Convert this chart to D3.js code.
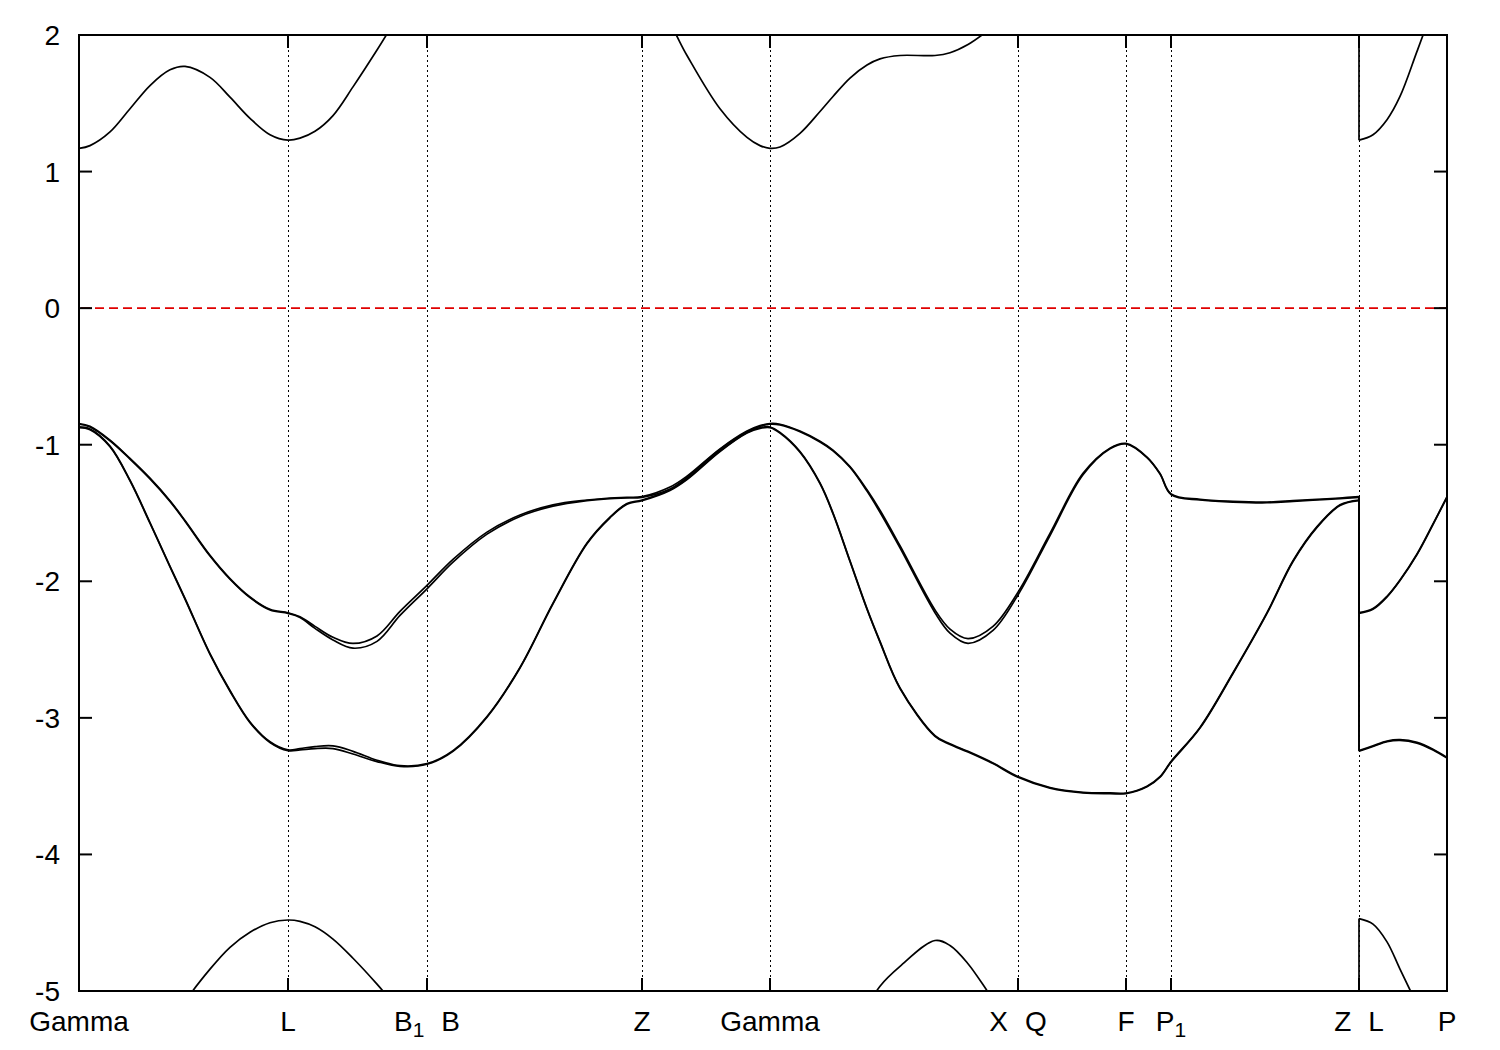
<!DOCTYPE html>
<html><head><meta charset="utf-8">
<script src="https://cdn.jsdelivr.net/npm/d3@7"></script>
<style>body{margin:0;background:#fff} svg{display:block}</style>
</head><body>
<svg id="c" width="1500" height="1050"></svg>
<script>
// k-path distance (arb. units); duplicated value = discontinuity Z|L
const kPath=[0,0.044,0.124,0.204,0.284,0.364,0.424,0.524,0.604,0.684,0.764,0.836,
 0.884,0.944,1.016,1.096,1.192,1.284,1.392,
 1.496,1.632,1.764,1.896,2.032,2.124,2.192,2.252,
 2.364,2.432,2.564,2.672,2.724,2.764,
 2.804,2.884,2.964,3.016,3.084,3.152,3.204,3.284,3.424,3.484,3.556,3.656,3.756,
 3.884,4.016,4.124,4.188,
 4.272,4.324,4.368,
 4.484,4.616,4.752,4.856,4.952,5.044,5.12,
 5.12,5.176,5.232,5.284,5.352,5.416,5.472];

// band energies (eV)
const bandCB=[1.17,1.19,1.29,1.46,1.63,1.745,1.77,1.69,1.545,1.39,1.27,1.23,
 1.245,1.295,1.41,1.62,1.89,2.16,2.45,
 2.7,2.9,3.0,3.0,2.9,2.7,2.5,2.35,
 2.08,1.85,1.46,1.25,1.19,1.17,
 1.18,1.28,1.44,1.55,1.685,1.78,1.825,1.85,1.85,1.87,1.93,2.06,2.2,
 2.4,2.6,2.7,2.7,
 2.65,2.6,2.6,
 2.6,2.6,2.6,2.6,2.6,2.6,2.6,
 1.23,1.27,1.38,1.55,1.88,2.2,2.5];

const bandVB1a=[-0.845,-0.865,-0.966,-1.10,-1.245,-1.41,-1.555,-1.81,-1.98,-2.115,-2.205,-2.23,
 -2.26,-2.33,-2.41,-2.455,-2.40,-2.22,-2.03,
 -1.84,-1.64,-1.515,-1.44,-1.405,-1.39,-1.385,-1.38,
 -1.31,-1.23,-1.03,-0.90,-0.86,-0.845,
 -0.85,-0.90,-0.975,-1.04,-1.16,-1.33,-1.48,-1.74,-2.21,-2.35,-2.42,-2.33,-2.08,
 -1.65,-1.21,-1.025,-0.99,
 -1.09,-1.21,-1.36,
 -1.40,-1.415,-1.42,-1.41,-1.40,-1.39,-1.38,
 -2.23,-2.20,-2.11,-1.99,-1.80,-1.58,-1.38];

const bandVB1b=[-0.85,-0.87,-0.971,-1.105,-1.25,-1.415,-1.56,-1.815,-1.985,-2.12,-2.21,-2.235,
 -2.265,-2.345,-2.43,-2.49,-2.44,-2.25,-2.055,
 -1.86,-1.655,-1.525,-1.45,-1.41,-1.395,-1.39,-1.385,
 -1.325,-1.24,-1.035,-0.905,-0.865,-0.85,
 -0.855,-0.905,-0.98,-1.045,-1.165,-1.34,-1.495,-1.755,-2.23,-2.38,-2.455,-2.36,-2.10,
 -1.665,-1.22,-1.03,-0.995,
 -1.095,-1.215,-1.365,
 -1.405,-1.42,-1.425,-1.415,-1.405,-1.395,-1.385,
 -2.235,-2.205,-2.115,-1.995,-1.805,-1.585,-1.385];

const bandVB2a=[-0.87,-0.885,-1.01,-1.26,-1.57,-1.89,-2.125,-2.53,-2.80,-3.03,-3.175,-3.235,
 -3.225,-3.21,-3.205,-3.245,-3.31,-3.35,-3.335,
 -3.24,-2.99,-2.63,-2.16,-1.72,-1.53,-1.43,-1.405,
 -1.33,-1.25,-1.045,-0.91,-0.875,-0.87,
 -0.91,-1.05,-1.28,-1.50,-1.85,-2.20,-2.44,-2.78,-3.13,-3.19,-3.245,-3.33,-3.43,
 -3.51,-3.545,-3.55,-3.55,
 -3.50,-3.43,-3.32,
 -3.07,-2.67,-2.23,-1.85,-1.60,-1.44,-1.405,
 -3.24,-3.205,-3.17,-3.16,-3.18,-3.23,-3.29];

const bandVB2b=[-0.875,-0.89,-1.015,-1.265,-1.575,-1.895,-2.13,-2.535,-2.805,-3.035,-3.18,-3.24,
 -3.235,-3.225,-3.225,-3.265,-3.32,-3.355,-3.34,
 -3.245,-2.995,-2.635,-2.165,-1.725,-1.535,-1.435,-1.41,
 -1.335,-1.255,-1.05,-0.915,-0.88,-0.875,
 -0.915,-1.055,-1.285,-1.505,-1.855,-2.205,-2.445,-2.785,-3.135,-3.195,-3.25,-3.335,-3.435,
 -3.515,-3.55,-3.555,-3.555,
 -3.505,-3.435,-3.325,
 -3.075,-2.675,-2.235,-1.855,-1.605,-1.445,-1.41,
 -3.245,-3.21,-3.175,-3.165,-3.185,-3.235,-3.295];

const bandVB3=[-6.2,-6.15,-6.0,-5.75,-5.5,-5.28,-5.08,-4.84,-4.68,-4.57,-4.50,-4.48,
 -4.49,-4.53,-4.62,-4.76,-4.95,-5.15,-5.4,
 -5.6,-5.8,-5.9,-6.0,-6.0,-6.0,-6.0,-6.0,
 -6.0,-6.05,-6.1,-6.15,-6.2,-6.2,
 -6.2,-6.1,-5.85,-5.65,-5.38,-5.12,-4.965,-4.82,-4.63,-4.667,-4.80,-5.06,-5.3,
 -5.6,-5.8,-5.9,-5.9,
 -5.9,-5.9,-5.9,
 -5.9,-5.9,-5.9,-5.9,-5.9,-5.9,-5.9,
 -4.47,-4.51,-4.64,-4.84,-5.1,-5.35,-5.55];

const symK=[0,0.836,1.392,2.252,2.764,3.756,4.188,4.368,5.12,5.472];
const symLabels=["Gamma","L","B_1 B","Z","Gamma","X Q","F","P_1","Z L","P"];
const yTicks=[-5,-4,-3,-2,-1,0,1,2];
const fermiLevel=0;

const bands=[bandCB,bandVB1a,bandVB1b,bandVB2a,bandVB2b,bandVB3];

const L=79,R=1447,T=35,B=991;
const x=d3.scaleLinear().domain([0,5.472]).range([L,R]);
const y=d3.scaleLinear().domain([-5,2]).range([B,T]);
const svg=d3.select("#c");
const font="'Liberation Sans', Arial, Helvetica, sans-serif";

svg.append("defs").append("clipPath").attr("id","clip")
 .append("rect").attr("x",L).attr("y",T).attr("width",R-L).attr("height",B-T);

// vertical dotted lines at interior symmetry points
svg.append("g").selectAll("line").data(symK.slice(1,-1)).join("line")
 .attr("x1",d=>Math.round(x(d))+0.5).attr("x2",d=>Math.round(x(d))+0.5)
 .attr("y1",T).attr("y2",B)
 .attr("stroke","#000").attr("stroke-width",1).attr("stroke-dasharray","2,3");

// bands
const splitIdx=kPath.findIndex((k,i)=>i<kPath.length-1&&k===kPath[i+1]);
const line=d3.line().x(d=>x(d[0])).y(d=>y(d[1])).curve(d3.curveCatmullRom.alpha(0.5));
const gb=svg.append("g").attr("clip-path","url(#clip)");
bands.forEach(band=>{
  const pts=kPath.map((k,i)=>[k,band[i]]);
  const p1=pts.slice(0,splitIdx+1), p2=pts.slice(splitIdx+1);
  [p1,p2].forEach(p=>gb.append("path").attr("d",line(p))
    .attr("fill","none").attr("stroke","#000").attr("stroke-width",1.7));
  gb.append("line").attr("x1",x(p1[p1.length-1][0])).attr("x2",x(p2[0][0]))
    .attr("y1",y(p1[p1.length-1][1])).attr("y2",y(p2[0][1]))
    .attr("stroke","#000").attr("stroke-width",1.7);
});

// Fermi level
svg.append("line").attr("x1",L+2).attr("x2",R).attr("y1",y(fermiLevel)).attr("y2",y(fermiLevel))
 .attr("stroke","#e00000").attr("stroke-width",1.6).attr("stroke-dasharray","9,5");

// border
svg.append("rect").attr("x",L).attr("y",T).attr("width",R-L).attr("height",B-T)
 .attr("fill","none").attr("stroke","#000").attr("stroke-width",2);

// y ticks (both sides)
const tl=13;
const gy=svg.append("g");
yTicks.forEach(v=>{
  gy.append("line").attr("x1",L).attr("x2",L+tl).attr("y1",y(v)).attr("y2",y(v)).attr("stroke","#000").attr("stroke-width",2);
  gy.append("line").attr("x1",R-tl).attr("x2",R).attr("y1",y(v)).attr("y2",y(v)).attr("stroke","#000").attr("stroke-width",2);
  gy.append("text").attr("x",60).attr("y",y(v)+10).attr("text-anchor","end")
    .attr("font-family",font).attr("font-size",28).text(String(v));
});

// x ticks (both sides) and labels
const gx=svg.append("g");
symK.forEach((k,i)=>{
  const xp=Math.round(x(k));
  gx.append("line").attr("x1",xp).attr("x2",xp).attr("y1",B).attr("y2",B-tl).attr("stroke","#000").attr("stroke-width",2);
  gx.append("line").attr("x1",xp).attr("x2",xp).attr("y1",T).attr("y2",T+tl).attr("stroke","#000").attr("stroke-width",2);
  const t=gx.append("text").attr("x",x(k)).attr("y",1031).attr("text-anchor","middle")
    .attr("font-family",font).attr("font-size",28);
  let lowered=false;
  symLabels[i].split(" ").forEach((part,j)=>{
    const [main,sub]=part.split("_");
    const ts=t.append("tspan").text(main);
    if(j>0) ts.attr("dx",17);
    if(lowered){ ts.attr("dy",-6); lowered=false; }
    if(sub){
      t.append("tspan").attr("font-size",21).attr("dy",6).text(sub);
      lowered=true;
    }
  });
});
</script>
</body></html>
